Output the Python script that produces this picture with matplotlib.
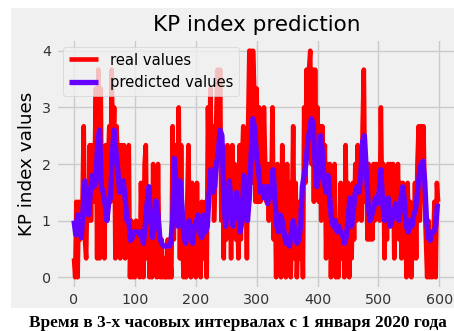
import matplotlib
matplotlib.use("Agg")
import matplotlib.pyplot as plt
from matplotlib.patches import Rectangle
import numpy as np

# real KP values, in thirds, read every 2nd time step
real_thirds = [
    1, 0, 4, 0, 4, 2, 3, 4, 8, 2,
    1, 5, 3, 7, 3, 7, 4, 6, 10, 1,
    11, 1, 10, 2, 6, 1, 7, 3, 6, 8,
    4, 11, 6, 9, 1, 8, 6, 7, 1, 7,
    3, 7, 1, 5, 2, 7, 0, 3, 0, 2,
    0, 3, 1, 2, 0, 5, 2, 0, 6, 7,
    1, 4, 0, 3, 0, 6, 1, 4, 0, 6,
    1, 0, 2, 0, 1, 0, 0, 2, 0, 1,
    0, 8, 2, 6, 7, 3, 9, 1, 7, 2,
    0, 3, 0, 4, 7, 1, 0, 5, 2, 4,
    0, 5, 1, 3, 0, 4, 1, 2, 4, 0,
    9, 5, 10, 6, 8, 3, 5, 9, 11, 6,
    11, 3, 7, 1, 6, 2, 7, 4, 6, 1,
    7, 3, 6, 2, 4, 1, 7, 2, 6, 8,
    4, 6, 1, 8, 12, 12, 5, 12, 10, 4,
    10, 4, 9, 4, 8, 5, 9, 6, 4, 6,
    3, 6, 4, 9, 2, 5, 0, 6, 1, 3,
    0, 7, 1, 4, 0, 6, 2, 5, 0, 3,
    8, 1, 5, 0, 2, 4, 1, 4, 0, 9,
    5, 11, 7, 11, 12, 6, 11, 4, 11, 5,
    9, 4, 8, 3, 8, 4, 7, 1, 6, 3,
    6, 0, 4, 1, 6, 0, 3, 0, 2, 5,
    1, 4, 0, 7, 2, 5, 0, 4, 1, 5,
    2, 6, 3, 7, 4, 6, 3, 8, 11, 4,
    6, 2, 6, 2, 5, 2, 6, 3, 6, 4,
    6, 3, 9, 4, 6, 1, 5, 2, 6, 3,
    6, 4, 6, 1, 5, 3, 6, 2, 5, 1,
    5, 2, 4, 0, 5, 2, 4, 0, 3, 1,
    5, 1, 6, 8, 3, 8, 6, 8, 4, 2,
    0, 3, 0, 1, 0, 2, 4, 0, 5, 4,
]
real_step = 2

# predicted values, read every 3rd time step
predicted = [
    1.0, 0.75, 1.1, 1.0, 0.7, 1.2, 1.7, 1.4, 1.1, 1.5,
    1.8, 1.6, 1.7, 2.4, 2.6, 1.6, 1.5, 1.3, 1.0, 1.3,
    1.4, 2.2, 2.6, 2.2, 1.9, 1.5, 1.6, 1.7, 1.4, 1.0,
    1.0, 0.65, 0.7, 0.8, 0.8, 0.8, 0.75, 0.8, 0.6, 0.9,
    1.3, 1.6, 1.0, 0.7, 0.9, 1.35, 1.1, 0.7, 0.6, 0.55,
    0.55, 0.55, 0.55, 0.6, 1.0, 2.1, 1.6, 0.9, 1.7, 1.3,
    0.8, 0.6, 0.7, 1.0, 0.8, 0.6, 0.9, 1.0, 1.1, 0.8,
    0.7, 1.1, 0.8, 0.9, 1.5, 1.9, 1.5, 1.6, 2.0, 2.2,
    2.6, 2.5, 1.4, 0.9, 1.2, 1.7, 1.3, 0.9, 1.1, 1.5,
    1.3, 0.8, 1.0, 1.8, 1.6, 1.0, 1.4, 2.2, 2.8, 2.6,
    2.1, 1.9, 1.5, 1.6, 1.4, 1.6, 1.3, 1.6, 1.4, 1.9,
    1.4, 0.9, 0.8, 1.1, 1.0, 0.8, 0.6, 0.7, 0.55, 0.8,
    1.0, 0.8, 0.6, 0.65, 0.9, 1.6, 1.8, 2.0, 2.4, 2.6,
    2.8, 2.7, 2.0, 1.6, 1.8, 2.5, 2.2, 1.7, 1.5, 1.8,
    1.4, 1.0, 0.9, 1.0, 0.8, 0.9, 0.8, 0.75, 0.6, 0.7,
    1.0, 1.4, 0.9, 1.2, 1.5, 1.6, 1.5, 1.8, 2.4, 2.5,
    1.9, 1.3, 1.0, 1.1, 1.2, 1.4, 1.3, 1.5, 1.9, 1.3,
    1.0, 1.2, 1.4, 0.9, 1.0, 1.1, 1.3, 1.2, 1.0, 1.4,
    1.6, 1.3, 0.9, 0.8, 1.0, 0.9, 1.1, 1.2, 1.5, 1.8,
    2.0, 2.05, 1.7, 1.0, 0.7, 0.65, 0.8, 0.8, 0.9, 1.3,
]
pred_step = 3

x_real = np.arange(len(real_thirds)) * real_step
y_real = np.array(real_thirds) / 3
x_pred = np.arange(len(predicted)) * pred_step

plt.style.use('fivethirtyeight')

W, H = 454, 331
fig = plt.figure(figsize=(W / 100, H / 100), dpi=100, facecolor='white')
# grey plot canvas, white margin left and below
fig.patches.append(Rectangle((11 / W, (H - 308) / H), (W - 11) / W, 300 / H,
                             transform=fig.transFigure, facecolor='#f0f0f0',
                             edgecolor='none', zorder=-10))

ax = fig.add_axes([55.7 / W, (H - 288.6) / H, (457.6 - 55.7) / W, (288.6 - 39.4) / H])
ax.plot(x_real, y_real, color='#ff0000', lw=3.3, label='real values')
ax.plot(x_pred, predicted, color='#6600ff', lw=3.8, label='predicted values')

ax.set_xlim(-30, 630)
ax.set_ylim(-0.2, 4.2)
ax.set_xticks(range(0, 601, 100))
ax.set_yticks(range(0, 5))
ax.tick_params(labelsize=10.3, labelcolor='#333333')
ax.set_title('KP index prediction', fontsize=15.5)
ax.set_ylabel('KP index values', fontsize=13.2)
ax.legend(loc='upper left', fontsize=10.6)

fig.text(238 / W, (H - 323) / H, 'Время в 3-х часовых интервалах с 1 января 2020 года',
         ha='center', va='center', fontsize=12.4, fontweight='bold',
         family='Liberation Serif')

fig.savefig('out.png', dpi=100, facecolor='white')
